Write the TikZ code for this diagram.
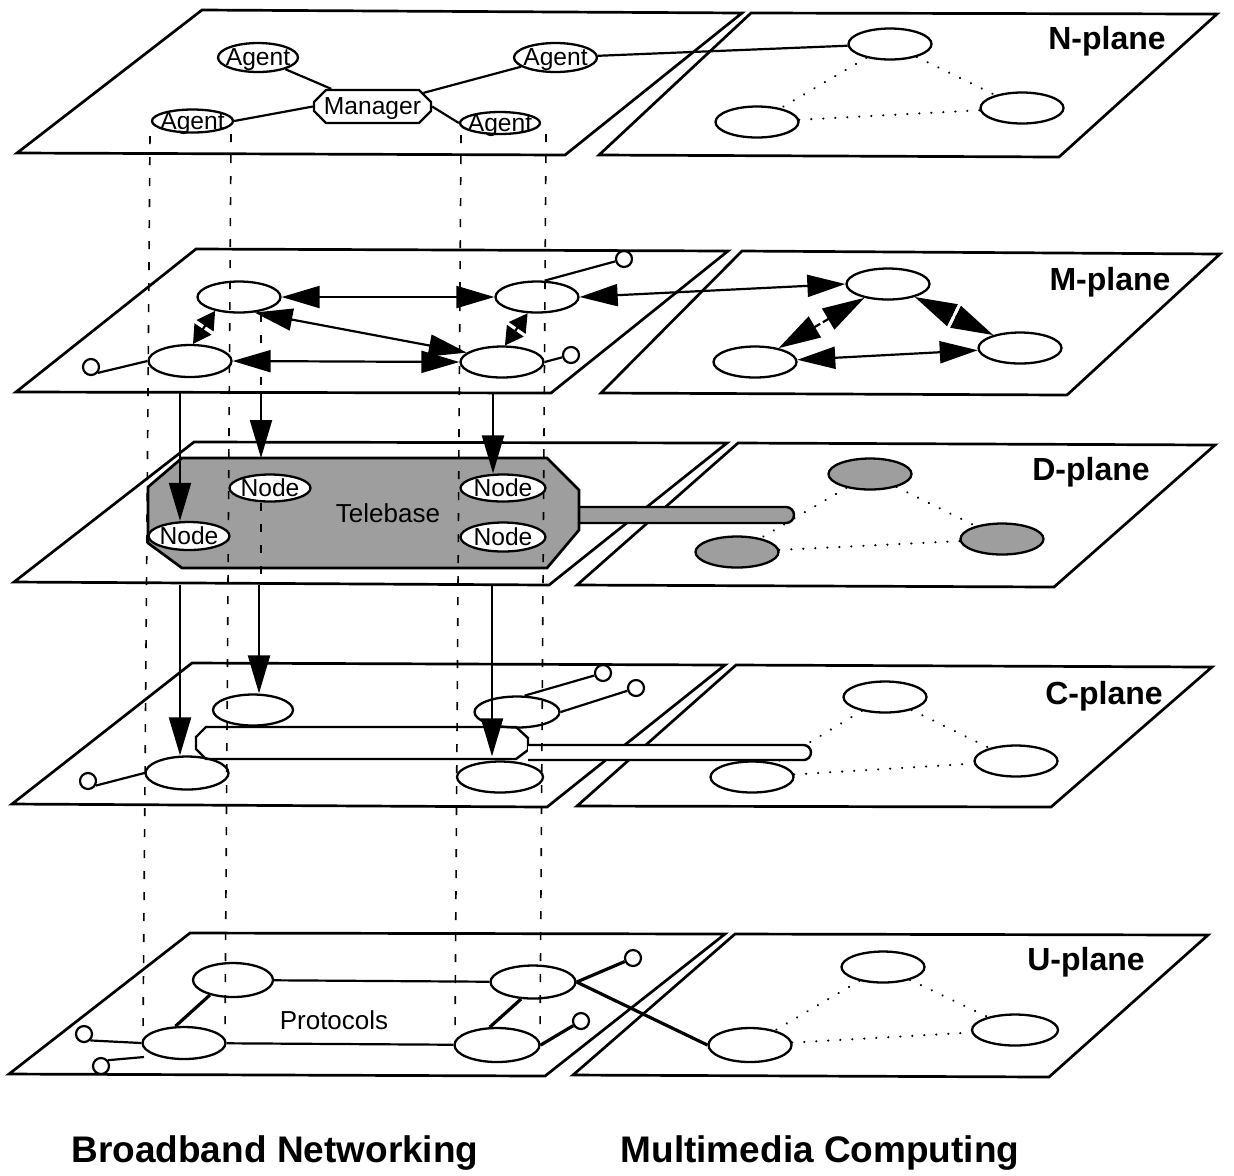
\documentclass[tikz,border=0pt]{standalone}
\usepackage{fontspec}
\setmainfont{Liberation Sans}
\usetikzlibrary{arrows.meta,shapes.geometric,shapes.misc,calc}
\pgfdeclarelayer{back}
\pgfdeclarelayer{mid}
\pgfsetlayers{back,mid,main}
\colorlet{tgray}{black!38}
\begin{document}
\begin{tikzpicture}[x=0.5pt,y=-0.5pt,
  plane/.style={draw,line width=1.35pt,line join=miter},
  ell/.style={draw,ellipse,line width=1.15pt,inner sep=0pt,minimum width=41.5pt,minimum height=15.5pt},
  tell/.style={ell,inner sep=-2.5pt,text depth=0pt,font=\fontsize{12.3}{13}\selectfont},
  term/.style={draw,circle,line width=1.1pt,minimum size=8pt,inner sep=0pt},
  ln/.style={line width=1.1pt},
  thk/.style={line width=1.6pt},
  dotl/.style={line width=1.2pt,dash pattern=on 0.01pt off 6pt,line cap=round},
  dashl/.style={line width=0.8pt,dash pattern=on 4pt off 6.5pt},
  arr/.style={line width=1.1pt,-{Triangle[length=19pt,width=11pt]}},
  dblarr/.style={line width=1.1pt,{Triangle[length=19pt,width=11pt]}-{Triangle[length=19pt,width=11pt]}},
  dblbig/.style={line width=1.1pt,{Triangle[length=21pt,width=12pt]}-{Triangle[length=21pt,width=12pt]}},
  smalldbl/.style={line width=1.1pt,{Triangle[length=9pt,width=10pt]}-{Triangle[length=9pt,width=10pt]}},
  plabel/.style={font=\fontsize{16}{18}\selectfont\bfseries,anchor=base},
  biglabel/.style={font=\fontsize{18.5}{20}\selectfont\bfseries,anchor=base},
  midlabel/.style={font=\fontsize{13}{14}\selectfont}
]
\useasboundingbox (0,0) rectangle (1234,1175);

% ---------------- planes ----------------
\begin{pgfonlayer}{back}
\draw[plane] (17,153) -- (202,10) -- (742,13) -- (565,155) -- cycle;
\draw[plane] (599,155) -- (751,13) -- (1217,14) -- (1059,157) -- cycle;
\draw[plane] (16,392) -- (196,249) -- (728,251) -- (551,393) -- cycle;
\draw[plane] (601,393) -- (742,251) -- (1220,254) -- (1067,395) -- cycle;
\draw[plane] (14,582) -- (194,442) -- (727,443) -- (549,585) -- cycle;
\draw[plane] (577,585) -- (738,443) -- (1215,445) -- (1054,587) -- cycle;
\draw[plane] (12,804) -- (192,663) -- (725,665) -- (547,807) -- cycle;
\draw[plane] (577,806) -- (736,665) -- (1212,667) -- (1051,807) -- cycle;
\draw[plane] (9,1074) -- (190,933) -- (725,934) -- (545,1076) -- cycle;
\draw[plane] (573,1075) -- (735,934) -- (1208,935) -- (1049,1077) -- cycle;
\end{pgfonlayer}

\node[plabel] (lN) at (1107,49) {N-plane};
\node[plabel] (lM) at (1110,290) {M-plane};
\node[plabel] (lD) at (1091,480) {D-plane};
\node[plabel] (lC) at (1104,704) {C-plane};
\node[plabel] (lU) at (1086,970) {U-plane};

% ---------------- N plane ----------------
\node[tell,minimum width=40pt,minimum height=14.5pt] (agUL) at (258,57.5) {Agent};
\node[tell,minimum width=40.5pt,minimum height=11.5pt] (agLL) at (192.5,121) {Agent};
\node[tell,minimum width=41.5pt,minimum height=14.5pt] (agUR) at (555.5,57.5) {Agent};
\node[tell,minimum width=40pt,minimum height=11pt] (agLR) at (500,123) {Agent};
\node[draw,chamfered rectangle,chamfered rectangle sep=3pt,line width=1.15pt,
      minimum width=58.5pt,minimum height=16.5pt,inner sep=0.5pt,text depth=0pt,
      font=\fontsize{12.3}{13}\selectfont] (mgr) at (372.5,106.5) {Manager};
\node[ell] (nT) at (890,44) {};
\node[ell] (nR) at (1022,108) {};
\node[ell] (nL) at (757,122) {};
\draw[ln] (agUL) -- (mgr);
\draw[ln] (agLL.east) -- (mgr.west);
\draw[ln] (agUR) -- (mgr);
\draw[ln] (mgr.east) -- (agLR.west);
\draw[ln] (agUR) -- (nT);
\begin{pgfonlayer}{back}
\draw[dotl] (nT) -- (nL);
\draw[dotl] (nT) -- (nR);
\draw[dotl] (nL) -- (nR);
\end{pgfonlayer}

% ---------------- M plane ----------------
\node[ell] (mUL) at (239,297) {};
\node[ell] (mUR) at (537,297) {};
\node[ell,minimum height=16pt] (mLL) at (190,361) {};
\node[ell] (mLR) at (502,362) {};
\node[ell] (mT) at (888,284) {};
\node[ell] (mL) at (755,362) {};
\node[ell] (mR) at (1020,348) {};
\node[term] (tM1) at (91,367) {};
\node[term] (tM2) at (571,355) {};
\node[term] (tM3) at (624,259) {};
\draw[dblarr] (mUL.east) -- (mUR.west);
\draw[dblarr] (mUL.-45) -- (mLR.165);
\draw[dblarr] (mLL.east) -- (mLR.west);
\draw[dblarr] (mUR.east) -- (mT.west);
\draw[smalldbl] (mUL.-150) -- (mLL.80);
\draw[smalldbl] (mUR.-120) -- (mLR.80);
\draw[ln] (tM1.-40) -- (mLL.west);
\draw[ln] (mLR.east) -- (tM2);
\draw[ln] (mUR.65) -- (tM3);
\path (mT) -- coordinate[pos=0.5] (g1) (mL);
\path (mT) -- coordinate[pos=0.5] (g2) (mR);
\draw[dblbig] (mT) -- (mL);
\draw[dblbig] (mT) -- (mR);
\draw[white,line width=1.4pt] ($(g1)!7pt!90:(mT)$) -- ($(g1)!7pt!-90:(mT)$);
\draw[white,line width=1.4pt] ($(g2)!7pt!90:(mT)$) -- ($(g2)!7pt!-90:(mT)$);
\draw[dblarr] (mL) -- (mR);

% ---------------- D plane ----------------
\begin{pgfonlayer}{mid}
\draw[line width=1.2pt,fill=tgray] (575,507) -- (786,507) arc[start angle=90,end angle=-90,radius=4pt] -- (575,523);
\draw[line width=1.35pt,fill=tgray,line join=miter] (182,458) -- (547,458) -- (579,490) -- (579,530) -- (547,568) -- (182,568) -- (148,543) -- (148,487) -- cycle;
\end{pgfonlayer}
\node[midlabel] (tele) at (388,513) {Telebase};
\node[tell,fill=white,minimum width=40.5pt,minimum height=13.5pt] (dUL) at (270,488) {Node};
\node[tell,fill=white,minimum width=42.5pt,minimum height=13.5pt] (dUR) at (503,488) {Node};
\node[tell,fill=white,minimum width=40.5pt,minimum height=14pt] (dLL) at (189,536) {Node};
\node[tell,fill=white,minimum width=42.5pt,minimum height=14.5pt] (dLR) at (503,537) {Node};
\node[ell,fill=tgray] (dT) at (870,474) {};
\node[ell,fill=tgray] (dR) at (1002,539) {};
\node[ell,fill=tgray] (dL) at (737,552) {};
\begin{pgfonlayer}{back}
\draw[dotl] (dT) -- (dL);
\draw[dotl] (dT) -- (dR);
\draw[dotl] (dL) -- (dR);
\end{pgfonlayer}

% ---------------- C plane ----------------
\begin{pgfonlayer}{mid}
\draw[line width=1.2pt,fill=white,line join=miter] (206,727) -- (516,727) -- (528,738) -- (528,750) -- (516,759) -- (206,759) -- (196,749) -- (196,737) -- cycle;
\draw[line width=1.2pt,fill=white] (528,745) -- (803.5,745) arc[start angle=90,end angle=-90,radius=3.75pt] -- (528,760);
\end{pgfonlayer}
\node[ell,minimum width=40pt] (cUL) at (253,710) {};
\node[ell,minimum height=16.5pt] (cLL) at (187,773) {};
\node[ell,minimum width=42.5pt] (cUR) at (517,712) {};
\node[ell,minimum width=43pt] (cLR) at (500,777) {};
\node[ell] (cT) at (885,697) {};
\node[ell] (cR) at (1016,761) {};
\node[ell] (cL) at (752,777) {};
\node[term] (tC1) at (88,781) {};
\node[term] (tC2) at (603,673) {};
\node[term] (tC3) at (636,688) {};
\draw[ln] (tC1.-30) -- (cLL.west);
\draw[ln] (cUR.65) -- (tC2);
\draw[ln] (cUR.east) -- (tC3);
\begin{pgfonlayer}{back}
\draw[dotl] (cT) -- (cL);
\draw[dotl] (cT) -- (cR);
\draw[dotl] (cL) -- (cR);
\end{pgfonlayer}

% ---------------- U plane ----------------
\node[ell,minimum width=40pt,minimum height=17pt] (uUL) at (233,980) {};
\node[ell,minimum height=16pt] (uLL) at (184,1043) {};
\node[ell,minimum width=42.5pt,minimum height=16.5pt] (uUR) at (533,982) {};
\node[ell,minimum width=42.5pt,minimum height=17pt] (uLR) at (497,1045) {};
\node[ell] (uT) at (883,967) {};
\node[ell,minimum width=43pt] (uR) at (1015,1030) {};
\node[ell,minimum height=17pt] (uL) at (750,1045) {};
\node[term] (tU1) at (84,1034) {};
\node[term] (tU2) at (101,1066) {};
\node[term] (tU3) at (633,958) {};
\node[term] (tU4) at (581,1021) {};
\coordinate (tU2e) at (144,1057);
\node[midlabel] (proto) at (334,1020) {Protocols};
\draw[ln] (uUL) -- (uUR);
\draw[ln] (uLL) -- (uLR);
\draw[thk] (uUL.213) -- (uLL.117);
\draw[thk] (uUR.235) -- (uLR.112);
\draw[thk] (uUR.east) -- (uL.west);
\draw[thk] (uUR.east) -- (tU3);
\draw[thk] (uLR.east) -- (tU4);
\draw[ln] (tU1.-45) -- (uLL.west);
\draw[ln] (tU2.40) -- (tU2e);
\begin{pgfonlayer}{back}
\draw[dotl] (uT) -- (uL);
\draw[dotl] (uT) -- (uR);
\draw[dotl] (uL) -- (uR);
\end{pgfonlayer}

% ---------------- projection lines ----------------
\coordinate (p1t) at (150,136); \coordinate (p1b) at (143,1035);
\coordinate (p2t) at (231,134); \coordinate (p2b) at (225,1035);
\coordinate (p3t) at (461,135); \coordinate (p3b) at (455,1036);
\coordinate (p4t) at (546,134); \coordinate (p4b) at (540,1036);
\coordinate (q1t) at (261,314); \coordinate (q1b) at (261,393);
\coordinate (q2t) at (261,503); \coordinate (q2b) at (261,585);
\begin{pgfonlayer}{mid}
\draw[dashl] (p1t) -- (p1b);
\draw[dashl] (p2t) -- (p2b);
\draw[dashl] (p3t) -- (p3b);
\draw[dashl] (p4t) -- (p4b);
\draw[dashl] (q1t) -- (q1b);
\draw[dashl] (q2t) -- (q2b);
\end{pgfonlayer}

% ---------------- inter-plane arrows ----------------
\coordinate (a1s) at (180,393);
\coordinate (a2s) at (261,393);
\coordinate (a2e) at (261,458);
\coordinate (a3s) at (493,393);
\coordinate (b1s) at (180,585);
\coordinate (b2s) at (259,585);
\coordinate (b3s) at (492,585);
\draw[arr] (a1s) -- (a1s |- dLL.north);
\draw[arr] (a2s) -- (a2e);
\draw[arr] (a3s) -- (a3s |- dUR.north);
\draw[arr] (b1s) -- (b1s |- cLL.north);
\draw[arr] (b2s) -- (b2s |- cUL.north);
\draw[arr] (b3s) -- ([yshift=2pt]b3s |- cLR.north);

% ---------------- bottom labels ----------------
\node[biglabel] (bb) at (275,1162) {Broadband Networking};
\node[biglabel] (mm) at (820,1162) {Multimedia Computing};
\end{tikzpicture}
\end{document}
